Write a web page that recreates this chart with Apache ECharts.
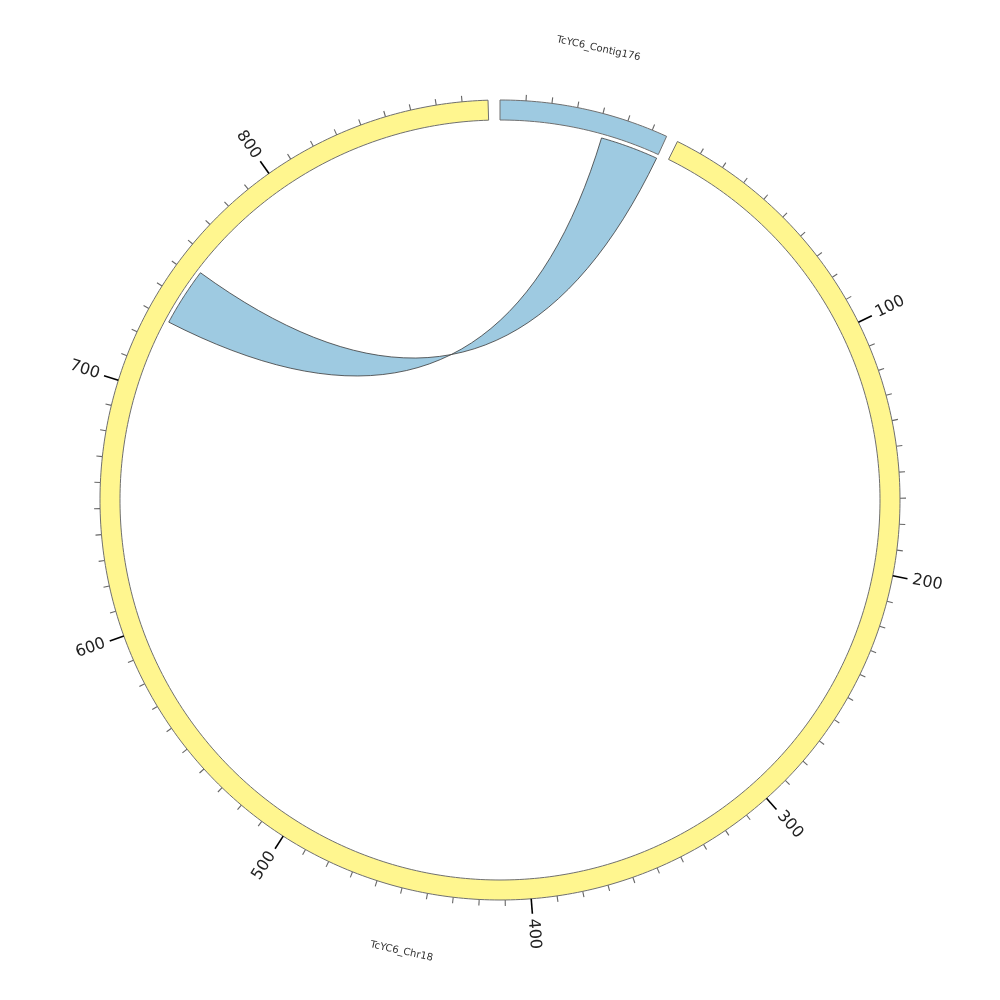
<!DOCTYPE html>
<html>
<head>
<meta charset="utf-8">
<script src="https://cdn.jsdelivr.net/npm/echarts@6/dist/echarts.min.js"></script>
<style>html,body{margin:0;padding:0;background:#fff;}#c{width:1000px;height:1000px;}</style>
</head>
<body>
<div id="c"></div>
<script>
// ---- data ----
const segNames = ['TcYC6_Contig176', 'TcYC6_Chr18'];
const segLengths = [66, 890];
const linkSource = ['TcYC6_Contig176', 42, 66];
const linkTarget = ['TcYC6_Chr18', 729, 753];
const chr18TickLabels = ['100', '200', '300', '400', '500', '600', '700', '800'];
const contigTickLabels = [];

// ---- layout / style ----
const GAP = 4.6;
const R_OUT = 400, R_IN = 380, R_LINK = 376;
const segFill = ['#9ECAE1', '#FFF68F'];
const tickMinor = 10;

const segStart = {};
let acc = 0;
segNames.forEach((n, i) => { segStart[n] = acc; acc += segLengths[i] + GAP; });
const TOTAL = acc;

const segData = segNames.map((n, i) => [segStart[n], segStart[n] + segLengths[i], i]);

const tickData = [];
const tickText = [];
segNames.forEach((n, i) => {
  const labels = i === 0 ? contigTickLabels : chr18TickLabels;
  for (let p = tickMinor; p < segLengths[i]; p += tickMinor) {
    const lab = labels.indexOf(String(p));
    tickData.push([segStart[n] + p, lab >= 0 ? 1 : 0]);
    tickText.push(lab >= 0 ? labels[lab] : '');
  }
});

const linkData = [[
  segStart[linkSource[0]] + linkSource[1], segStart[linkSource[0]] + linkSource[2],
  segStart[linkTarget[0]] + linkTarget[1], segStart[linkTarget[0]] + linkTarget[2]
]];

const nameData = segNames.map((n, i) => [segStart[n] + segLengths[i] / 2]);

function angDeg(g) { return g / TOTAL * 360; }

const chart = echarts.init(document.getElementById('c'), null, {renderer: 'canvas'});
chart.setOption({
  backgroundColor: '#ffffff',
  animation: false,
  polar: { center: ['50%', '50%'], radius: R_OUT },
  angleAxis: { type: 'value', min: 0, max: TOTAL, startAngle: 90, clockwise: true, show: false },
  radiusAxis: { type: 'value', min: 0, max: R_OUT, show: false },
  series: [
    {
      type: 'custom', coordinateSystem: 'polar', data: segData,
      renderItem: function (params, api) {
        const s = api.value(0), e = api.value(1), ci = api.value(2);
        const pts = [];
        const N = Math.max(8, Math.ceil((e - s) / 2));
        for (let k = 0; k <= N; k++) pts.push(api.coord([R_OUT, s + (e - s) * k / N]));
        for (let k = N; k >= 0; k--) pts.push(api.coord([R_IN, s + (e - s) * k / N]));
        return { type: 'polygon', shape: { points: pts },
          style: { fill: segFill[ci], stroke: '#707070', lineWidth: 1 } };
      }
    },
    {
      type: 'custom', coordinateSystem: 'polar', data: linkData,
      renderItem: function (params, api) {
        const a0 = api.value(0), a1 = api.value(1), b0 = api.value(2), b1 = api.value(3);
        const O = api.coord([0, 0]);
        const pts = [];
        const N = 40;
        function bez(P0, P2) {
          const C = [O[0] + 0.04 * ((P0[0] + P2[0]) / 2 - O[0]), O[1] + 0.04 * ((P0[1] + P2[1]) / 2 - O[1])];
          for (let k = 1; k < N; k++) {
            const t = k / N, u = 1 - t;
            pts.push([u*u*P0[0] + 2*u*t*C[0] + t*t*P2[0], u*u*P0[1] + 2*u*t*C[1] + t*t*P2[1]]);
          }
        }
        for (let k = 0; k <= N; k++) pts.push(api.coord([R_LINK, a0 + (a1 - a0) * k / N]));
        bez(api.coord([R_LINK, a1]), api.coord([R_LINK, b1]));
        for (let k = 0; k <= N; k++) pts.push(api.coord([R_LINK, b1 + (b0 - b1) * k / N]));
        bez(api.coord([R_LINK, b0]), api.coord([R_LINK, a0]));
        return { type: 'polygon', shape: { points: pts },
          style: { fill: '#9ECAE1', stroke: '#3a3a3a', lineWidth: 0.8 } };
      }
    },
    {
      type: 'custom', coordinateSystem: 'polar', data: tickData,
      renderItem: function (params, api) {
        const g = api.value(0), major = api.value(1) === 1;
        const p0 = api.coord([R_OUT, g]);
        const p1 = api.coord([R_OUT + (major ? 15 : 6), g]);
        const children = [{ type: 'line', shape: { x1: p0[0], y1: p0[1], x2: p1[0], y2: p1[1] },
          style: { stroke: major ? '#000' : '#666', lineWidth: major ? 1.6 : 1.1 } }];
        if (major) {
          const th = angDeg(g);
          const pt = api.coord([R_OUT + 20, g]);
          const left = th > 180;
          const rot = (left ? 270 - th : 90 - th) * Math.PI / 180;
          children.push({ type: 'text', x: pt[0], y: pt[1], rotation: rot,
            style: { text: tickText[params.dataIndex], fontSize: 16, fontFamily: 'DejaVu Sans', fill: '#222',
              align: left ? 'right' : 'left', verticalAlign: 'middle' } });
        }
        return { type: 'group', children: children };
      }
    },
    {
      type: 'custom', coordinateSystem: 'polar', data: nameData,
      renderItem: function (params, api) {
        const g = api.value(0);
        const th = angDeg(g);
        const pt = api.coord([462, g]);
        const bottom = th > 90 && th < 270;
        const rot = -(bottom ? th - 180 : th) * Math.PI / 180;
        return { type: 'text', x: pt[0], y: pt[1], rotation: rot,
          style: { text: segNames[params.dataIndex], fontSize: 10, fontFamily: 'DejaVu Sans', fill: '#333',
            align: 'center', verticalAlign: 'middle' } };
      }
    }
  ]
});
</script>
</body>
</html>
